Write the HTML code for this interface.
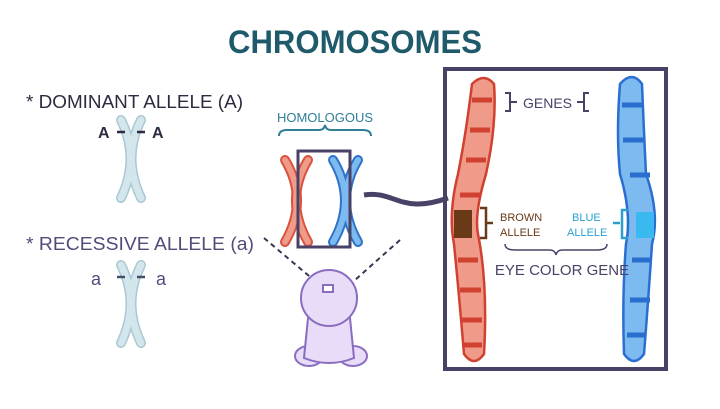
<!DOCTYPE html>
<html><head><style>
body{margin:0;background:#fff;width:720px;height:404px;overflow:hidden}
svg text{font-family:"Liberation Sans",sans-serif}
</style></head><body>
<svg width="720" height="404" viewBox="0 0 720 404">
<text x="355" y="53" text-anchor="middle" font-size="32" font-weight="bold" fill="#1f5a6b" textLength="254" lengthAdjust="spacingAndGlyphs">CHROMOSOMES</text>
<text x="26" y="108" font-size="18" fill="#2e2a40" textLength="217" lengthAdjust="spacingAndGlyphs">* DOMINANT ALLELE (A)</text>
<text x="26" y="250" font-size="18" fill="#554a7a" textLength="228" lengthAdjust="spacingAndGlyphs">* RECESSIVE ALLELE (a)</text>
<g fill="none" stroke-linecap="round">
<g stroke="#a9c8d3" stroke-width="10">
<path d="M121 120 Q140 158 121 198"/><path d="M141 120 Q122 158 141 198"/>
<path d="M121 265 Q140 303 121 343"/><path d="M141 265 Q122 303 141 343"/>
</g>
<g stroke="#d3e6ec" stroke-width="7">
<path d="M121 120 Q140 158 121 198"/><path d="M141 120 Q122 158 141 198"/>
<path d="M121 265 Q140 303 121 343"/><path d="M141 265 Q122 303 141 343"/>
</g>
</g>
<g stroke="#2e2a40" stroke-width="2.5"><line x1="117" y1="132" x2="125" y2="132"/><line x1="137" y1="132" x2="145" y2="132"/></g>
<g stroke="#40506a" stroke-width="2.5"><line x1="117" y1="277" x2="125" y2="277"/><line x1="137" y1="277" x2="145" y2="277"/></g>
<text x="98" y="138" font-size="16" font-weight="bold" fill="#2e2a40">A</text>
<text x="152" y="138" font-size="16" font-weight="bold" fill="#2e2a40">A</text>
<text x="91" y="285" font-size="18" fill="#554a7a">a</text>
<text x="156" y="285" font-size="18" fill="#554a7a">a</text>
<text x="325" y="122" text-anchor="middle" font-size="13" fill="#2f7f98">HOMOLOGOUS</text>
<path d="M279 136 q0 -6 8 -6 h32 q5 0 6 -5 q1 5 6 5 h32 q8 0 8 6" fill="none" stroke="#2f7f98" stroke-width="2"/>
<g fill="none" stroke-linecap="round">
<g stroke="#d9533f" stroke-width="10"><path d="M285 160 Q309 200 285 242"/><path d="M308 160 Q284 200 308 242"/></g>
<g stroke="#f09a8a" stroke-width="6"><path d="M285 160 Q309 200 285 242"/><path d="M308 160 Q284 200 308 242"/></g>
<g stroke="#2f74c8" stroke-width="10"><path d="M333 160 Q357 200 333 242"/><path d="M358 160 Q334 200 358 242"/></g>
<g stroke="#7cbaf0" stroke-width="6"><path d="M333 160 Q357 200 333 242"/><path d="M358 160 Q334 200 358 242"/></g>
</g>
<rect x="298" y="151" width="52" height="96" fill="none" stroke="#4a4266" stroke-width="3"/>
<path d="M364 195 C395 190 400 215 448 198" fill="none" stroke="#4a4266" stroke-width="5"/>
<g stroke="#3a3550" stroke-width="2" stroke-dasharray="5 4"><line x1="264" y1="238" x2="328" y2="292"/><line x1="400" y1="240" x2="346" y2="288"/></g>
<g fill="#e8dcf8" stroke="#8a6cc0" stroke-width="2">
<ellipse cx="309" cy="356" rx="14" ry="10"/><ellipse cx="353" cy="356" rx="14" ry="10"/>
<path d="M308 318 q20 -10 42 0 l4 40 q-25 10 -50 0 z"/>
<circle cx="329" cy="298" r="28"/>
<rect x="323" y="285" width="10" height="7" fill="#fff"/>
</g>
<rect x="445" y="69" width="221" height="300" fill="none" stroke="#4a4266" stroke-width="4"/>
<path d="M472 84 q12 -12 22 0 q3 40 -8 90 q-12 40 -8 60 q10 50 6 120 q-10 14 -20 0 q-5 -60 -10 -110 q-6 -30 4 -70 q8 -40 14 -90 z" fill="#f09a8a" stroke="#d0412f" stroke-width="2.5"/>
<g stroke="#d0412f" stroke-width="5"><line x1="472" y1="100" x2="492" y2="100"/><line x1="470" y1="130" x2="490" y2="130"/><line x1="466" y1="160" x2="486" y2="160"/><line x1="460" y1="195" x2="480" y2="195"/><line x1="458" y1="260" x2="478" y2="260"/><line x1="460" y1="290" x2="481" y2="290"/><line x1="462" y1="320" x2="482" y2="320"/><line x1="464" y1="345" x2="482" y2="345"/></g>
<rect x="454" y="210" width="18" height="28" fill="#6a3a18"/>
<path d="M620 84 q12 -14 22 0 q2 50 4 90 q14 40 6 70 q-4 60 -8 110 q-10 14 -20 0 q-2 -60 2 -110 q6 -30 -6 -70 q-4 -40 0 -90 z" fill="#7cbaf0" stroke="#2a6fd0" stroke-width="2.5"/>
<g stroke="#2a6fd0" stroke-width="5"><line x1="622" y1="105" x2="642" y2="105"/><line x1="623" y1="140" x2="644" y2="140"/><line x1="630" y1="175" x2="650" y2="175"/><line x1="632" y1="260" x2="652" y2="260"/><line x1="630" y1="300" x2="650" y2="300"/><line x1="627" y1="335" x2="646" y2="335"/></g>
<rect x="636" y="212" width="18" height="26" fill="#3ab8f0"/>
<path d="M505 93 h5 v18 h-5 M510 102 h7" fill="none" stroke="#4a4266" stroke-width="2"/>
<text x="523" y="108" font-size="14" fill="#4a4266">GENES</text>
<path d="M577 102 h6 M589 93 h-5 v18 h5" fill="none" stroke="#4a4266" stroke-width="2"/>
<path d="M480 208 h6 v30 h-6 M486 223 h7" fill="none" stroke="#6a3a18" stroke-width="2.5"/>
<text x="500" y="221" font-size="11" fill="#6a3a18">BROWN</text>
<text x="500" y="236" font-size="11" fill="#6a3a18">ALLELE</text>
<text x="572" y="221" font-size="11" fill="#2aa0d0">BLUE</text>
<text x="567" y="236" font-size="11" fill="#2aa0d0">ALLELE</text>
<path d="M613 223 h7 M628 210 h-6 v28 h6" fill="none" stroke="#2aa0d0" stroke-width="2.5"/>
<path d="M505 244 q0 6 10 6 h35 q5 0 6 5 q1 -5 6 -5 h35 q10 0 10 -6" fill="none" stroke="#4a4266" stroke-width="1.5"/>
<text x="562" y="275" text-anchor="middle" font-size="15" fill="#4a4266">EYE COLOR GENE</text>
</svg>
</body></html>
